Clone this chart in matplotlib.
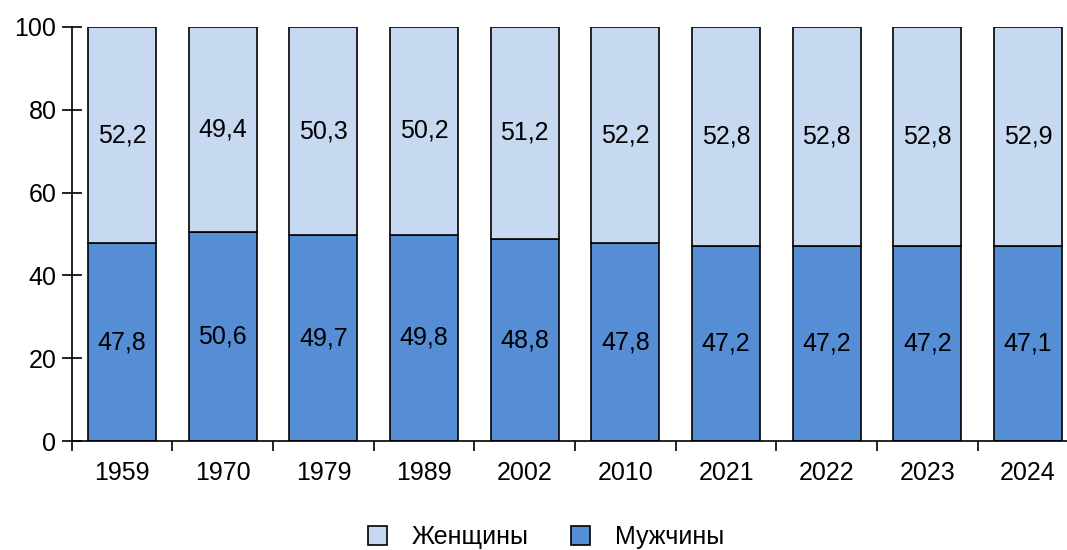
import numpy as np
import matplotlib.pyplot as plt

plt.rcParams['font.family'] = ['Liberation Sans', 'DejaVu Sans']

years = ['1959', '1970', '1979', '1989', '2002', '2010', '2021', '2022', '2023', '2024']
men = [47.8, 50.6, 49.7, 49.8, 48.8, 47.8, 47.2, 47.2, 47.2, 47.1]
women = [52.2, 49.4, 50.3, 50.2, 51.2, 52.2, 52.8, 52.8, 52.8, 52.9]

light = '#C6D9F1'
dark = '#558ED5'

fig = plt.figure(figsize=(10.67, 5.5), dpi=100)
# axes run a bit past the right edge, as in the reference
ax = fig.add_axes([0.0672, 0.198, 0.9435, 0.753])

x = np.arange(len(years))
b1 = ax.bar(x, men, width=0.675, color=dark, edgecolor='black', linewidth=1.2, label='Мужчины')
b2 = ax.bar(x, women, width=0.675, bottom=men, color=light, edgecolor='black', linewidth=1.2, label='Женщины')

for i in range(len(years)):
    ax.text(x[i], men[i] / 2, f'{men[i]:.1f}'.replace('.', ','), ha='center', va='center', fontsize=18)
    ax.text(x[i], men[i] + women[i] / 2, f'{women[i]:.1f}'.replace('.', ','), ha='center', va='center', fontsize=18)

ax.set_xlim(-0.5, len(years) - 0.5)
ax.set_ylim(0, 100)
ax.set_yticks([0, 20, 40, 60, 80, 100])
ax.set_xticks(x)
ax.set_xticklabels(years)
ax.set_xticks(np.arange(len(years) + 1) - 0.5, minor=True)
ax.tick_params(axis='x', which='major', length=0, pad=14, labelsize=18)
ax.tick_params(axis='x', which='minor', length=7, width=1.2, direction='out')
ax.tick_params(axis='y', length=14, width=1.2, direction='inout', labelsize=18, pad=4)
for s in ['top', 'right']:
    ax.spines[s].set_visible(False)
for s in ['left', 'bottom']:
    ax.spines[s].set_linewidth(1.2)
ax.spines['bottom'].set_clip_on(False)

fig.legend(handles=[b2, b1], labels=['Женщины', 'Мужчины'], loc='center', bbox_to_anchor=(0.512, 0.023),
           ncol=2, frameon=False, fontsize=18, handlelength=0.75, handleheight=0.75, columnspacing=1.7, handletextpad=1.0)

fig.savefig('out.png', dpi=100)
